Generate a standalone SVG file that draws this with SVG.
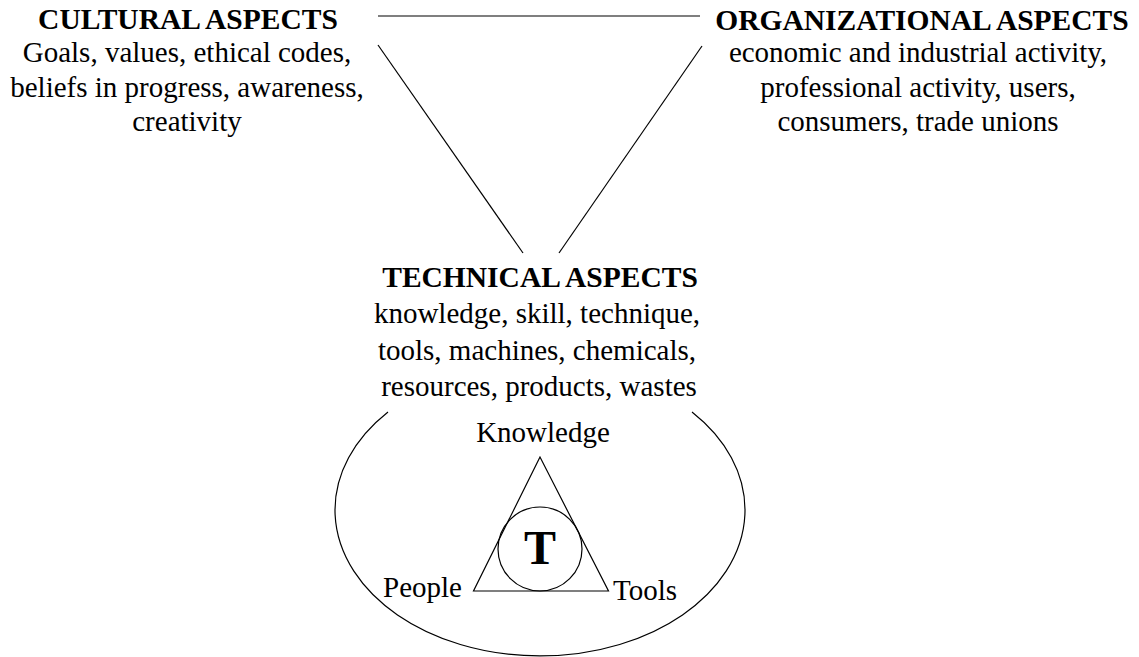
<svg xmlns="http://www.w3.org/2000/svg" width="1139" height="657" viewBox="0 0 1139 657">
  <style>
    text { fill: #000; text-anchor: middle; }
    .head { font-weight: bold; font-size: 29.5px; }
    .body { font-size: 29px; }
    .label { font-size: 29px; }
    .big { font-weight: bold; font-size: 48px; }
    .stroke { fill: none; stroke: #000; stroke-width: 1.2; }
  </style>
  <rect width="1139" height="657" fill="#fff"/>

  <!-- links between the three aspects -->
  <g id="connectors" class="stroke">
    <line x1="378" y1="16" x2="700" y2="16"/>
    <line x1="378" y1="45" x2="523" y2="253"/>
    <line x1="702" y1="46" x2="559" y2="253"/>
  </g>

  <g font-family="Liberation Serif, serif">
  <g id="cultural">
    <text class="head" x="188" y="29">CULTURAL ASPECTS</text>
    <text class="body" x="187" y="62">Goals, values, ethical codes,</text>
    <text class="body" x="187" y="96.5">beliefs in progress, awareness,</text>
    <text class="body" x="187" y="131">creativity</text>
  </g>

  <g id="organizational">
    <text class="head" x="922" y="30">ORGANIZATIONAL ASPECTS</text>
    <text class="body" x="918" y="62">economic and industrial activity,</text>
    <text class="body" x="918" y="97">professional activity, users,</text>
    <text class="body" x="918" y="131">consumers, trade unions</text>
  </g>

  <g id="technical">
    <text class="head" x="540" y="287">TECHNICAL ASPECTS</text>
    <text class="body" x="537" y="323">knowledge, skill, technique,</text>
    <text class="body" x="537" y="360">tools, machines, chemicals,</text>
    <text class="body" x="539" y="396">resources, products, wastes</text>
  </g>

  <!-- the open ellipse holding the knowledge / people / tools triad -->
  <g id="triad">
    <path class="stroke" d="M 388 412 A 205 146 0 1 0 692 412"/>
    <polygon class="stroke" points="540,457 473.5,591 608.5,591"/>
    <circle class="stroke" cx="540" cy="549" r="42"/>
    <text class="big" x="540" y="564">T</text>
    <text class="label" x="543" y="442">Knowledge</text>
    <text class="label" x="462" y="597" style="text-anchor:end">People</text>
    <text class="label" x="613" y="600" style="text-anchor:start">Tools</text>
  </g>
  </g>
</svg>
